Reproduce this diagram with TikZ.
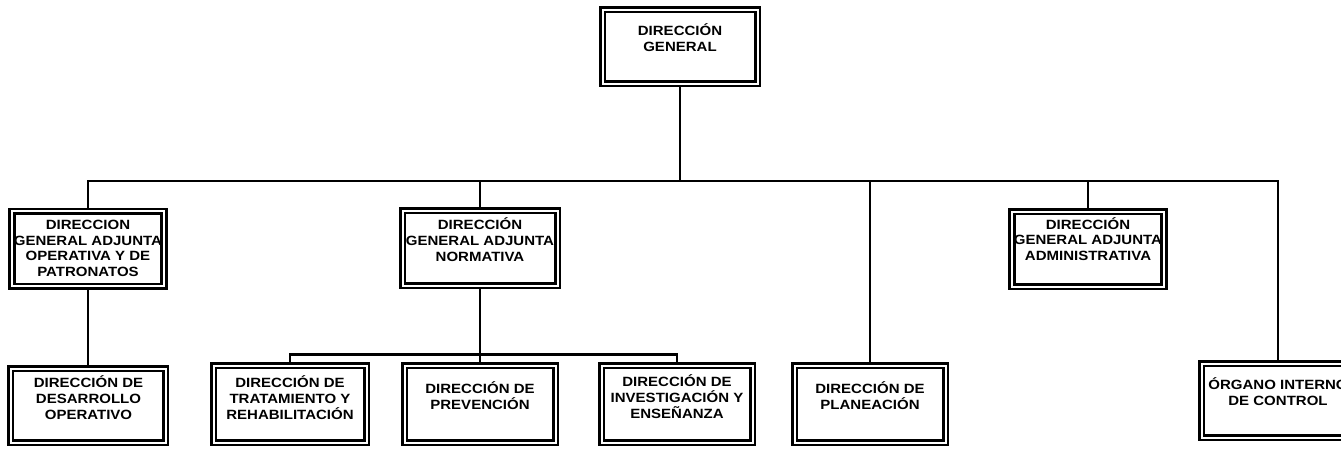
\documentclass[tikz,border=0pt]{standalone}
\usepackage{fontspec}
\newfontfamily\organo{Liberation Sans}[FakeStretch=1.12]
\begin{document}
\begin{tikzpicture}[x=1pt, y=-1pt,
    caja/.style={draw, double, line width=2.6pt, double distance=2pt, fill=white,
      outer sep=3.6pt, inner sep=0pt, anchor=north,
      minimum width=153pt, minimum height=75pt},
    texto/.style={font=\organo\bfseries\fontsize{13.4}{15.8}\selectfont, align=center,
      anchor=base, inner sep=0pt},
    enlace/.style={line width=2.8pt}]
  \useasboundingbox (0,0) rectangle (1341,448);
  \clip (0,0) rectangle (1341,448);
  % cajas
  \node [caja, minimum width=155pt, minimum height=74pt] (dg) at (680, 6) {};
  \node [caja, minimum width=152pt] (gaop) at (88, 207.5) {};
  \node [caja, minimum width=155pt] (ganorm) at (480, 207) {};
  \node [caja, minimum width=152pt] (gaadm) at (1088, 208) {};
  \node [caja, minimum width=155pt, minimum height=74pt] (desop) at (88, 365) {};
  \node [caja, minimum height=77pt] (trat) at (290, 362) {};
  \node [caja, minimum width=151pt, minimum height=77pt] (prev) at (480, 362) {};
  \node [caja, minimum width=151pt, minimum height=77pt] (inv) at (677, 362) {};
  \node [caja, minimum width=151pt, minimum height=77pt] (plan) at (870, 362) {};
  \node [caja, minimum height=74pt] (organo) at (1278, 360) {};
  % textos (base = ultima linea)
  \node [texto] (t-dg) at (680, 51) {DIRECCIÓN\\GENERAL};
  \node [texto] (t-gaop) at (88, 276.7) {DIRECCION\\GENERAL ADJUNTA\\OPERATIVA Y DE\\PATRONATOS};
  \node [texto] (t-ganorm) at (480, 261) {DIRECCIÓN\\GENERAL ADJUNTA\\NORMATIVA};
  \node [texto] (t-gaadm) at (1088, 260.7) {DIRECCIÓN\\GENERAL ADJUNTA\\ADMINISTRATIVA};
  \node [texto] (t-desop) at (88.5, 419) {DIRECCIÓN DE\\DESARROLLO\\OPERATIVO};
  \node [texto] (t-trat) at (290, 419) {DIRECCIÓN DE\\TRATAMIENTO Y\\REHABILITACIÓN};
  \node [texto] (t-prev) at (480, 409.3) {DIRECCIÓN DE\\PREVENCIÓN};
  \node [texto] (t-inv) at (677, 418) {DIRECCIÓN DE\\INVESTIGACIÓN Y\\ENSEÑANZA};
  \node [texto] (t-plan) at (870, 409.3) {DIRECCIÓN DE\\PLANEACIÓN};
  \node [texto] (t-organo) at (1278, 405) {ÓRGANO INTERNO\\DE CONTROL};
  % lineas
  \coordinate (barra) at (680, 181);
  \coordinate (barra2) at (480, 354.5);
  \draw [enlace] (dg.south) -- (barra);
  \draw [enlace] (gaop.north) |- (barra) -| (organo.north);
  \draw [enlace] (ganorm.north) -- (ganorm.north |- barra);
  \draw [enlace] (plan.north) -- (plan.north |- barra);
  \draw [enlace] (gaadm.north) -- (gaadm.north |- barra);
  \draw [enlace] (gaop.south) -- (desop.north);
  \draw [enlace] (ganorm.south) -- (barra2);
  \draw [enlace] (trat.north) |- (barra2) -| (inv.north);
  \draw [enlace] (prev.north) -- (barra2);
\end{tikzpicture}
\end{document}
